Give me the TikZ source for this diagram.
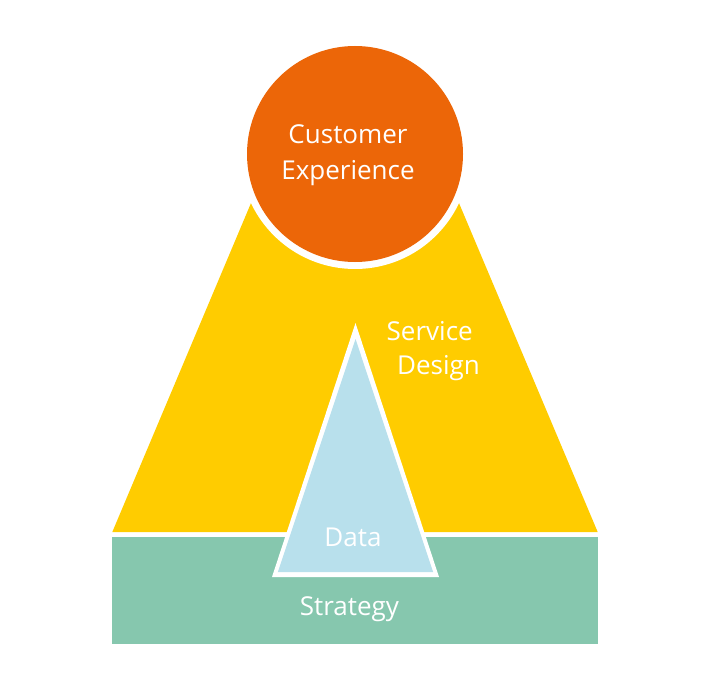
\documentclass[tikz,border=0pt]{standalone}
\usepackage{fontspec}
\setmainfont{Open Sans}
\definecolor{ceorange}{RGB}{236,102,8}
\definecolor{sdyellow}{RGB}{255,204,0}
\definecolor{stgreen}{RGB}{134,199,174}
\definecolor{dtblue}{RGB}{184,224,236}
\begin{document}
\begin{tikzpicture}[x=1pt,y=-1pt,
  lbl/.style={text=white,anchor=base,inner sep=0pt,font=\fontsize{26}{36}\selectfont}]
\useasboundingbox (0,0) rectangle (717,679);
% Strategy base
\fill[stgreen] (112.3,537.3) rectangle (597.7,644);
% Service design trapezoid
\fill[sdyellow] (112.3,532) -- (271.7,154) -- (438.3,154) -- (597.7,532) -- cycle;
% Customer experience circle with white ring
\fill[white] (355,154) circle (115);
\fill[ceorange] (355,154) circle (108);
% Data triangle with white border
\fill[white] (355.5,323) -- (439,577) -- (272,577) -- cycle;
\fill[dtblue] (355.5,339) -- (433.1,572) -- (277.9,572) -- cycle;
% labels
\node[lbl] (ce1) at (348,144) {Customer};
\node[lbl] (ce2) at (348,180) {Experience};
\node[lbl] (sd1) at (429.7,340.7) {Service};
\node[lbl] (sd2) at (438.5,374) {Design};
\node[lbl] (dt) at (353,546.7) {Data};
\node[lbl] (st) at (349.5,615) {Strategy};
\end{tikzpicture}
\end{document}
